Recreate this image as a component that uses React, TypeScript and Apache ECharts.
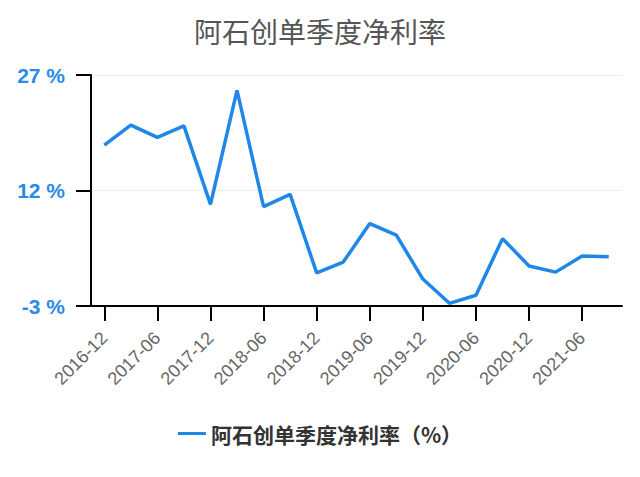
import React, { useEffect, useRef } from "react";
import * as echarts from "echarts";

const categories = [
  "2016-12", "2017-03", "2017-06", "2017-09", "2017-12", "2018-03", "2018-06", "2018-09",
  "2018-12", "2019-03", "2019-06", "2019-09", "2019-12", "2020-03", "2020-06", "2020-09",
  "2020-12", "2021-03", "2021-06", "2021-09",
];
const netMargin = [
  17.9, 20.5, 18.9, 20.4, 10.2, 25.0, 9.9, 11.5, 1.3, 2.7,
  7.7, 6.2, 0.5, -2.65, -1.6, 5.75, 2.2, 1.4, 3.5, 3.4,
];
const seriesName = "阿石创单季度净利率（%）";
const titleText = "阿石创单季度净利率";
const yMin = -3;
const yMax = 27;
const yInterval = 15;

const FONT = "'Liberation Sans', Arial, 'Noto Sans CJK SC', sans-serif";
const CJK = "'Noto Sans CJK SC', 'Liberation Sans', sans-serif";

export default function App() {
  const ref = useRef<HTMLDivElement>(null);
  useEffect(() => {
    if (!ref.current) return;
    const chart = echarts.init(ref.current, undefined, { renderer: "svg" });
    chart.setOption({
      animation: false,
      title: {
        text: titleText,
        left: "center",
        top: 12,
        textStyle: { fontFamily: CJK, fontSize: 28, fontWeight: "normal", color: "#555" },
      },
      legend: {
        data: [seriesName],
        left: "center",
        top: 418,
        itemWidth: 28,
        itemHeight: 14,
        icon: "path://M0,5.5 L28,5.5 L28,8.5 L0,8.5 Z",
        textStyle: { fontFamily: CJK, fontSize: 21, fontWeight: "bold", color: "#333" },
      },
      grid: { left: 91, right: 18, top: 75, bottom: 171, containLabel: false },
      xAxis: {
        type: "category",
        data: categories,
        boundaryGap: true,
        axisLine: { onZero: false, lineStyle: { color: "#000", width: 2 } },
        axisTick: { show: true, alignWithLabel: true, interval: 1, length: 15, lineStyle: { color: "#000", width: 2 } },
        axisLabel: {
          interval: 1,
          rotate: 45,
          margin: 29,
          fontFamily: FONT,
          fontSize: 18,
          color: "#666",
        },
      },
      yAxis: {
        type: "value",
        min: yMin,
        max: yMax,
        interval: yInterval,
        axisLine: { show: true, lineStyle: { color: "#000", width: 2 } },
        axisTick: { show: true, length: 15, lineStyle: { color: "#000", width: 2 } },
        splitLine: { lineStyle: { color: "#eee", width: 1 } },
        axisLabel: {
          formatter: "{value} %",
          margin: 26,
          fontFamily: FONT,
          fontSize: 21,
          fontWeight: "bold",
          color: "#2b8ae8",
        },
      },
      series: [
        {
          name: seriesName,
          type: "line",
          data: netMargin,
          showSymbol: false,
          symbol: "none",
          lineStyle: { color: "#1f87e8", width: 3.5 },
          itemStyle: { color: "#1f87e8" },
        },
      ],
    });
    return () => chart.dispose();
  }, []);
  return (
    <div
      ref={ref}
      style={{ position: "absolute", left: 0, top: 0, width: 640, height: 477 }}
    />
  );
}
